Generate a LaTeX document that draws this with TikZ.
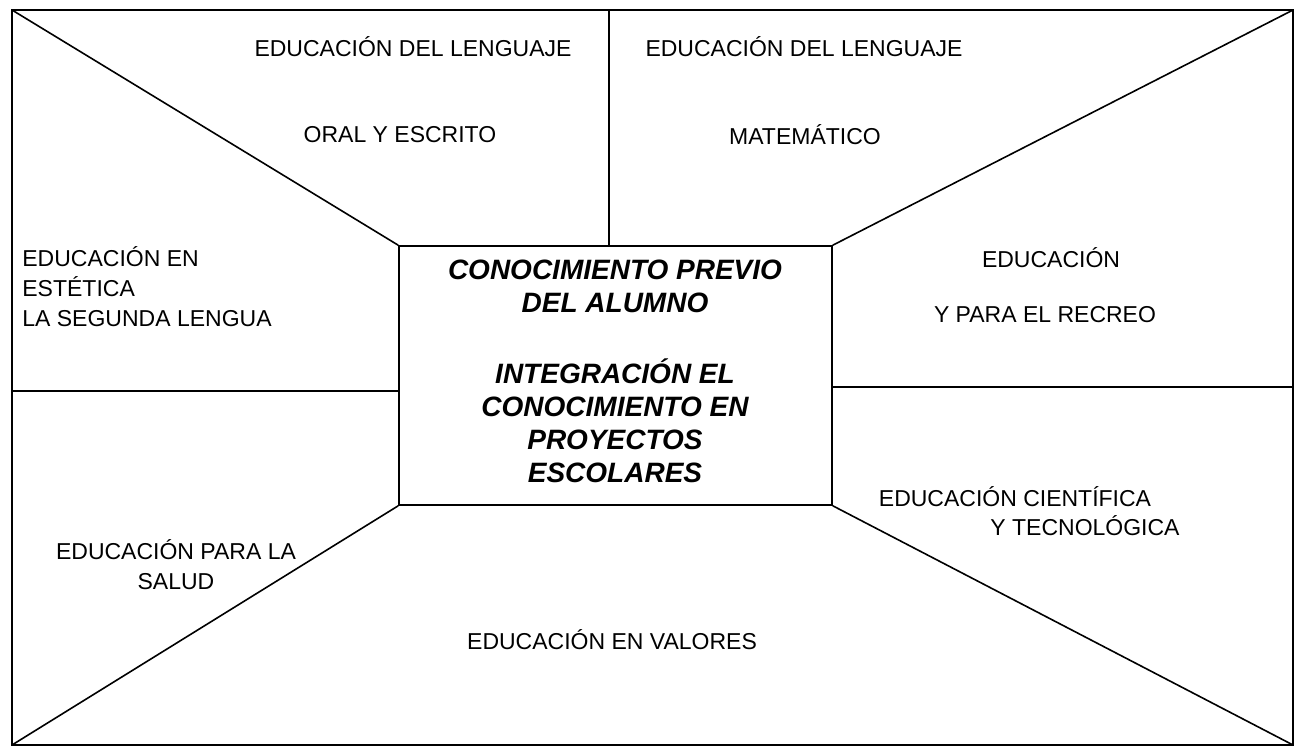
\documentclass[tikz,border=0pt]{standalone}
\usepackage{fontspec}
\setmainfont{Liberation Sans}
\begin{document}
\begin{tikzpicture}[x=0.5pt,y=-0.5pt,
  frame/.style={line width=0.8pt},
  area/.style={font=\fontsize{11.5}{15}\selectfont, align=center, inner sep=0pt},
  core/.style={draw, frame, minimum width=216.5pt, minimum height=129.5pt, inner sep=0pt},
  coretext/.style={font=\fontsize{14}{16.5}\selectfont\bfseries\itshape, align=center, inner sep=0pt}]
\useasboundingbox (0,0) rectangle (1300,748);
\coordinate (nw) at (12,10); \coordinate (ne) at (1293,10);
\coordinate (sw) at (12,745); \coordinate (se) at (1293,745);
\draw [frame] (nw) -- (ne) -- (se) -- (sw) -- cycle;

\node [core] (core) at (615.5,375.5) {};
\node [coretext] (previo) at (615,371) {CONOCIMIENTO PREVIO\\DEL ALUMNO\\[19pt]INTEGRACIÓN EL\\CONOCIMIENTO EN\\PROYECTOS\\ESCOLARES};

\draw [frame] (nw) -- (core.north west); \draw [frame] (ne) -- (core.north east);
\draw [frame] (sw) -- (core.south west); \draw [frame] (se) -- (core.south east);

\coordinate (tm) at (609,10); \draw [frame] (tm) -- (tm |- core.north);
\coordinate (lm) at (12,391); \draw [frame] (lm) -- (lm -| core.west);
\coordinate (rm) at (1293,387); \draw [frame] (rm) -- (rm -| core.east);

\node [area] (oral1) at (413,47) {EDUCACIÓN DEL LENGUAJE};
\node [area] (oral2) at (400,135) {ORAL Y ESCRITO};
\node [area] (mate1) at (804,47) {EDUCACIÓN DEL LENGUAJE};
\node [area] (mate2) at (805,135) {MATEMÁTICO};
\node [area, align=left, anchor=west] (estetica) at (22,287) {EDUCACIÓN EN\\ESTÉTICA\\LA SEGUNDA LENGUA};
\node [area] (recreo1) at (1051,258) {EDUCACIÓN};
\node [area] (recreo2) at (1045,315) {Y PARA EL RECREO};
\node [area] (salud) at (176,565) {EDUCACIÓN PARA LA\\SALUD};
\node [area] (ciencia1) at (1015,497) {EDUCACIÓN CIENTÍFICA};
\node [area] (ciencia2) at (1085,526) {Y TECNOLÓGICA};
\node [area] (valores) at (612,640) {EDUCACIÓN EN VALORES};
\end{tikzpicture}
\end{document}
